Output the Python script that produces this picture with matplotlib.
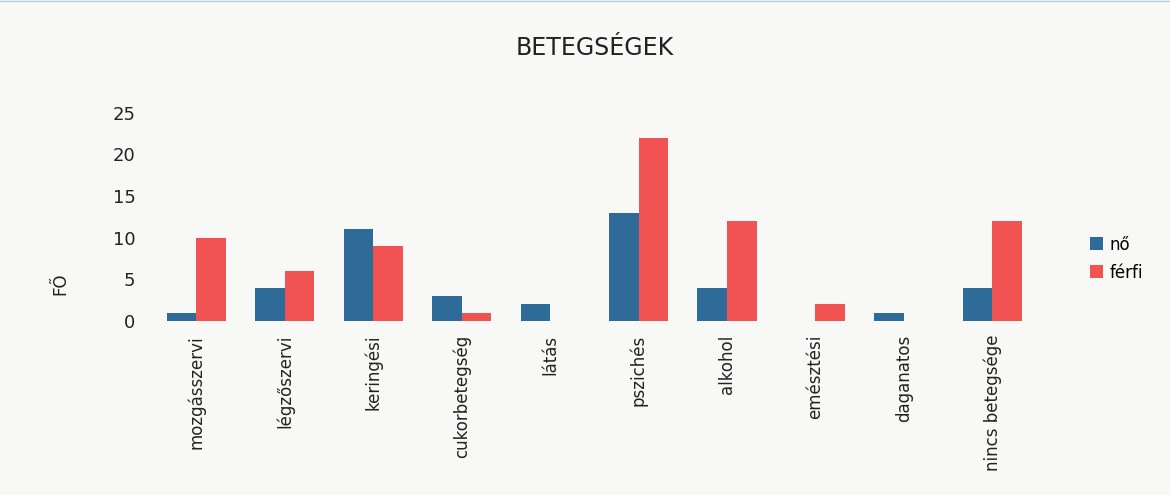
import numpy as np
import matplotlib.pyplot as plt

plt.rcParams['font.family'] = ['DejaVu Sans']

# adatok
kategoriak = ['mozgásszervi', 'légzőszervi', 'keringési', 'cukorbetegség', 'látás',
              'pszichés', 'alkohol', 'emésztési', 'daganatos', 'nincs betegsége']
no = [1, 4, 11, 3, 2, 13, 4, 0, 1, 4]
ferfi = [10, 6, 9, 1, 0, 22, 12, 2, 0, 12]

bg = '#f8f8f6'
fig = plt.figure(figsize=(11.7, 4.95), dpi=100, facecolor=bg)
ax = fig.add_axes([0.13, 0.3515, 0.756, 0.4205], facecolor=bg)

x = np.arange(len(kategoriak))
w = 0.335
ax.bar(x - w / 2, no, w, color='#2f6b99', label='nő')
ax.bar(x + w / 2, ferfi, w, color='#f05352', label='férfi')

ax.set_xlim(-0.5, len(kategoriak) - 0.5)
ax.set_ylim(0, 25)
ax.set_yticks([0, 5, 10, 15, 20, 25])
ax.set_xticks(x)
ax.set_xticklabels(kategoriak, rotation=90, fontsize=12, color='#222222')
ax.tick_params(axis='both', length=0, labelsize=13, colors='#222222')
ax.tick_params(axis='x', pad=10, labelsize=12)
ax.tick_params(axis='y', pad=12)
for s in ax.spines.values():
    s.set_visible(False)

ax.set_ylabel('FŐ', fontsize=12, color='#222222')
ax.yaxis.set_label_coords(-0.094, 0.18)
fig.text(0.508, 0.903, 'BETEGSÉGEK', ha='center', va='center', fontsize=17, color='#222222')

leg = ax.legend(loc='center left', bbox_to_anchor=(1.043, 0.30), frameon=False,
                fontsize=12, handlelength=0.8, handleheight=0.8, labelspacing=0.6,
                handletextpad=0.4)
fig.add_artist(plt.Line2D([0, 1], [0.997, 0.997], color='#b8cde0', lw=1))

plt.savefig('out.png', dpi=100, facecolor=bg)
